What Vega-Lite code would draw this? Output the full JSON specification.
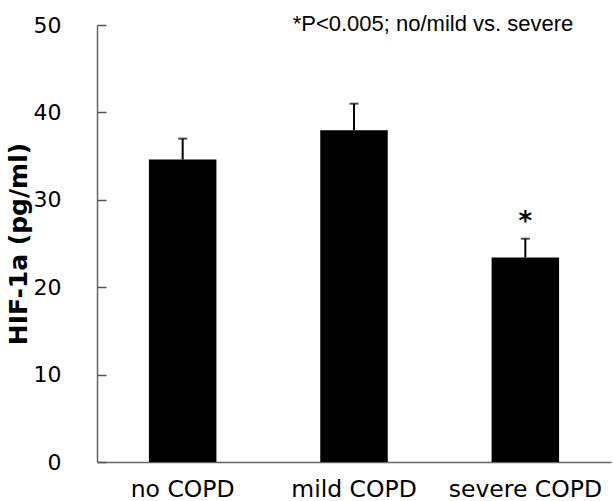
{
  "$schema": "https://vega.github.io/schema/vega-lite/v6.json",
  "width": 514,
  "height": 437,
  "autosize": "none",
  "padding": {"left": 97, "top": 25, "right": 2, "bottom": 39},
  "background": "white",
  "config": {"view": {"stroke": null}},
  "data": {
    "values": [
      {"group": "no COPD", "mean": 34.6, "upper": 37.0, "sig": ""},
      {"group": "mild COPD", "mean": 37.95, "upper": 41.0, "sig": ""},
      {"group": "severe COPD", "mean": 23.4, "upper": 25.55, "sig": "*"}
    ]
  },
  "encoding": {
    "x": {
      "field": "group",
      "type": "nominal",
      "sort": ["no COPD", "mild COPD", "severe COPD"],
      "scale": {"paddingInner": 0.606, "paddingOuter": 0.303},
      "axis": {
        "title": null,
        "labelAngle": 0,
        "ticks": false,
        "domainColor": "#666666",
        "domainWidth": 1.5,
        "labelFont": "DejaVu Sans",
        "labelFontSize": 23.5,
        "labelColor": "#000000",
        "labelPadding": 15,
        "labelBaseline": "top"
      }
    }
  },
  "layer": [
    {
      "mark": {"type": "bar", "color": "#000000"},
      "encoding": {
        "y": {
          "field": "mean",
          "type": "quantitative",
          "scale": {"domain": [0, 50], "nice": false},
          "axis": {
            "title": "HIF-1a (pg/ml)",
            "titleFont": "DejaVu Sans",
            "titleFontSize": 25,
            "titleFontWeight": "bold",
            "titleColor": "#000000",
            "titlePadding": 2,
            "values": [0, 10, 20, 30, 40, 50],
            "grid": false,
            "tickSize": -9,
            "tickColor": "#555555",
            "tickWidth": 1.5,
            "domainColor": "#666666",
            "domainWidth": 1.5,
            "labelFont": "DejaVu Sans",
            "labelFontSize": 22,
            "labelColor": "#000000",
            "labelPadding": 45
          }
        }
      }
    },
    {
      "mark": {"type": "rule", "color": "#000000", "strokeWidth": 2},
      "encoding": {
        "y": {"field": "mean", "type": "quantitative"},
        "y2": {"field": "upper"}
      }
    },
    {
      "mark": {"type": "tick", "color": "#000000", "size": 9, "thickness": 2, "orient": "horizontal"},
      "encoding": {
        "y": {"field": "upper", "type": "quantitative"}
      }
    },
    {
      "mark": {"type": "text", "font": "DejaVu Sans", "fontSize": 26, "fontWeight": "bold", "color": "#000000", "baseline": "middle", "dy": 4},
      "encoding": {
        "y": {"datum": 27.9, "type": "quantitative"},
        "text": {"field": "sig"}
      }
    },
    {
      "data": {"values": [{"note": "*P<0.005; no/mild vs. severe", "group": "severe COPD"}]},
      "mark": {"type": "text", "font": "Liberation Sans", "fontSize": 22, "color": "#000000", "align": "right", "baseline": "alphabetic", "dx": 48, "dy": 6},
      "encoding": {
        "x": {"field": "group", "type": "nominal"},
        "y": {"datum": 50, "type": "quantitative"},
        "text": {"field": "note"}
      }
    }
  ]
}
